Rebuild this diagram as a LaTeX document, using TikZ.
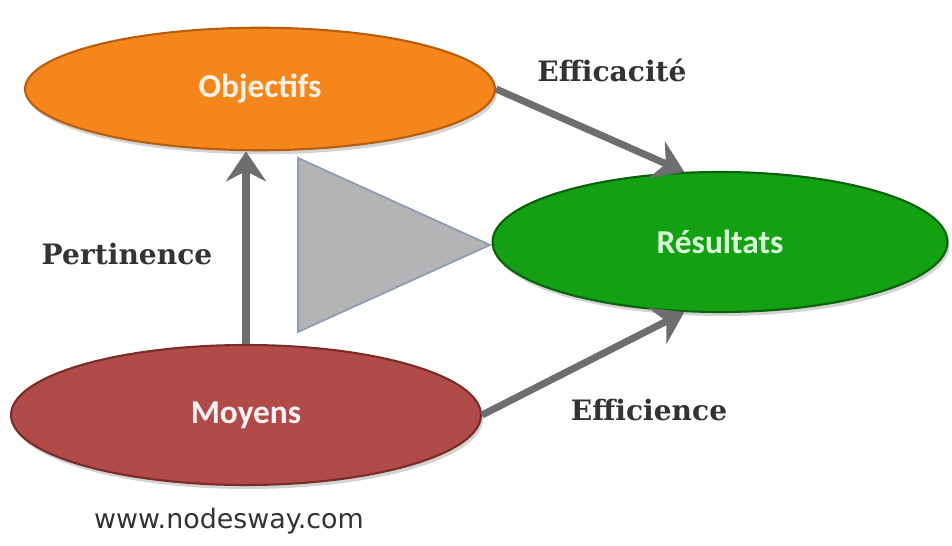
\documentclass[tikz,border=0pt]{standalone}
\usepackage{fontspec}
\usepackage{tikz}
\usepackage{xcolor}
\usetikzlibrary{shapes.geometric,arrows.meta,shadows}

\newfontfamily\bubblefont{Carlito}
\newfontfamily\slabfont{DejaVu Serif}
\newfontfamily\webfont{DejaVu Sans}

\definecolor{objorange}{HTML}{F5861C}
\definecolor{objrim}{HTML}{B85E0E}
\definecolor{resgreen}{HTML}{13A013}
\definecolor{resrim}{HTML}{0A620A}
\definecolor{moyred}{HTML}{B04B49}
\definecolor{moyrim}{HTML}{7A2C2A}
\definecolor{arrowgray}{HTML}{6E6E70}
\definecolor{trigray}{HTML}{B4B4B6}
\definecolor{triedge}{HTML}{8C9CB2}
\definecolor{tagdark}{HTML}{333333}

\begin{document}
\begin{tikzpicture}[x=0.02cm, y=-0.02cm,
  bubble/.style={ellipse, inner sep=0pt, line width=1.2pt,
    font=\bubblefont\bfseries\fontsize{19}{23}\selectfont,
    drop shadow={opacity=0.35, shadow xshift=0.04cm, shadow yshift=-0.08cm}},
  link/.style={draw=arrowgray, line width=4pt,
    -{Stealth[length=6mm, width=8mm, inset=2mm]}},
  tag/.style={font=\slabfont\bfseries\fontsize{16}{19}\selectfont, text=tagdark}]
  % Fix the frame
  \useasboundingbox (0,0) rectangle (952,546);

  % Triangle in the middle
  \filldraw[fill=trigray, draw=triedge, line width=1pt] (298,158) -- (298,332) -- (490,245) -- cycle;

  % The three ellipses
  \node[bubble, fill=objorange, draw=objrim, text=orange!10, minimum width=9.4cm, minimum height=2.45cm] (obj) at (260,89) {Objectifs};
  \node[bubble, fill=resgreen, draw=resrim, text=green!15, minimum width=9.1cm, minimum height=2.8cm] (res) at (720,242) {Résultats};
  \node[bubble, fill=moyred, draw=moyrim, text=red!5, minimum width=9.4cm, minimum height=2.8cm] (moy) at (246,415) {Moyens};

  % Arrows between them
  \draw[link] (moy.north) -- (moy.north |- obj.south);
  \draw[link] (obj.east) -- (res.117);
  \draw[link] (moy.east) -- (res.-117);

  % Labels
  \node[tag] (eff) at (612,70) {Efficacité};
  \node[tag] (per) at (127,254) {Pertinence};
  \node[tag] (efc) at (649,410) {Efficience};
  \node[font=\webfont\fontsize{15.3}{18}\selectfont, text=tagdark] (web) at (229,521) {www.nodesway.com};
\end{tikzpicture}
\end{document}
